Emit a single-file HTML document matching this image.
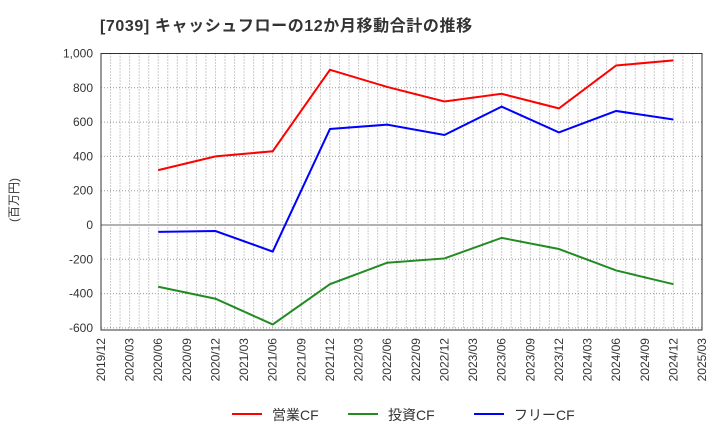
<!DOCTYPE html>
<html><head><meta charset="utf-8"><style>
body{margin:0;background:#fff;font-family:"Liberation Sans","Noto Sans CJK JP",sans-serif;}
svg text{font-family:"Liberation Sans","Noto Sans CJK JP",sans-serif;}
</style></head><body>
<svg id="c" width="720" height="440">
<text x="100" y="31" font-size="16" font-weight="bold" fill="#333" letter-spacing="0.6">[7039]  キャッシュフローの12か月移動合計の推移</text>
<text transform="translate(18,200) rotate(-90)" font-size="12" fill="#333" text-anchor="middle">(百万円)</text>
<g id="grid"></g><g id="series"></g><g id="axes"></g>
<g>
<line x1="232" y1="414" x2="262" y2="414" stroke="#f00" stroke-width="2"/>
<text x="272" y="420" font-size="14" fill="#333">営業CF</text>
<line x1="348" y1="414" x2="378" y2="414" stroke="#228b22" stroke-width="2"/>
<text x="388" y="420" font-size="14" fill="#333">投資CF</text>
<line x1="474" y1="414" x2="504" y2="414" stroke="#00f" stroke-width="2"/>
<text x="514" y="420" font-size="14" fill="#333">フリーCF</text>
</g>
</svg>
<script>
const xLabels=["2019/12","2020/03","2020/06","2020/09","2020/12","2021/03","2021/06","2021/09","2021/12","2022/03","2022/06","2022/09","2022/12","2023/03","2023/06","2023/09","2023/12","2024/03","2024/06","2024/09","2024/12","2025/03"];
const pointIdx=[2,4,6,8,10,12,14,16,18,20];
const operating=[320,400,430,905,805,720,765,680,930,960];
const investing=[-360,-430,-580,-345,-220,-195,-75,-140,-265,-345];
const free=[-40,-35,-155,560,585,525,690,540,665,615];
const yTicks=[1000,800,600,400,200,0,-200,-400,-600];
const L=101,R=702,T=53.5,B=330;
const x=i=>L+(R-L)*i/(xLabels.length-1);
const y=v=>225-v*0.1715;
const NS="http://www.w3.org/2000/svg";
function mk(tag,attrs,parent){const e=document.createElementNS(NS,tag);for(const k in attrs)e.setAttribute(k,attrs[k]);parent.appendChild(e);return e;}
const grid=document.getElementById('grid'),axes=document.getElementById('axes'),ser=document.getElementById('series');
for(let m=1;m<(xLabels.length-1)*3;m++){const xx=L+(R-L)*m/((xLabels.length-1)*3);
const g=mk('line',{x1:xx,x2:xx,y1:T,y2:B,stroke:'#999','stroke-dasharray':'1,2','stroke-width':1},grid);

}
yTicks.forEach(v=>{const yy=y(v);
const g=mk('line',{x1:L,x2:R,y1:yy,y2:yy,stroke:v===0?'#666':'#999','stroke-dasharray':v===0?'':'1,2','stroke-width':1},grid);


const t=mk('text',{x:L-8,y:yy+4,'font-size':12,fill:'#333','text-anchor':'end'},axes);t.textContent=v.toLocaleString('en-US');

});
const fr=mk('rect',{x:L,y:T,width:R-L,height:B-T,fill:'none',stroke:'#333','stroke-width':1},axes);


xLabels.forEach((s,i)=>{const xx=x(i);
const t=mk('text',{transform:`translate(${xx+4},${B+8}) rotate(-90)`,'font-size':12,fill:'#333','text-anchor':'end'},axes);t.textContent=s;

});
[[operating,'#f00','operating-cf-line'],[investing,'#228b22','investing-cf-line'],[free,'#00f','free-cf-line']].forEach(([d,c,n])=>{
const p=mk('polyline',{points:d.map((v,i)=>x(pointIdx[i])+','+y(v)).join(' '),fill:'none',stroke:c,'stroke-width':2},ser);

});
</script>
</body></html>
